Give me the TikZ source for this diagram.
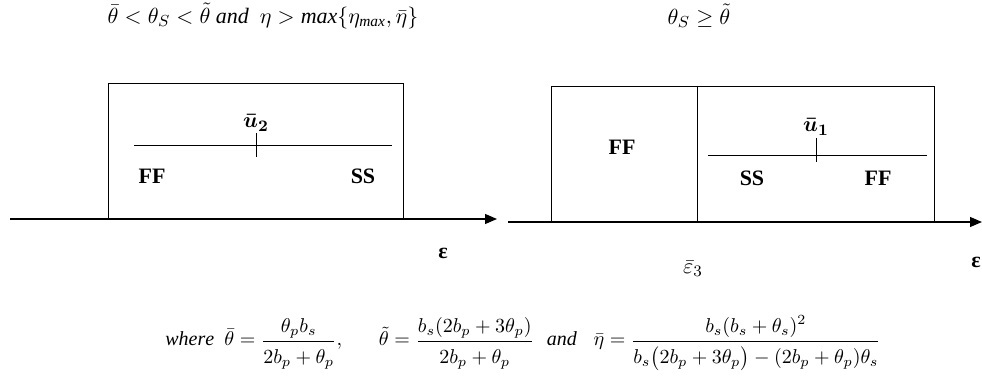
\documentclass[tikz,border=0pt]{standalone}
\usepackage{amsmath}
\usepackage{fontspec}
\setmainfont{Liberation Serif}
\usetikzlibrary{arrows.meta,positioning}
% fraction with a little more air, as in the source
\newcommand\airfrac[2]{\dfrac{\rule[-3pt]{0pt}{3pt}#1}{\rule{0pt}{10pt}#2}}
\begin{document}
\begin{tikzpicture}[x=0.5pt, y=-0.5pt, font=\fontsize{11}{13}\selectfont,
    axis/.style={-{Triangle[length=6pt,width=5pt]}, line width=0.6pt},
    panel/.style={draw, line width=0.5pt},
    lbl/.style={font=\fontsize{11}{13}\selectfont\bfseries},
    defn/.style={font=\normalsize, inner sep=0pt}]
  \useasboundingbox (0,0) rectangle (982,379);
  % regime conditions
  \node (condL) at (263,16) {$\bar{\theta} < \theta_S < \tilde{\theta}\ \mathit{and}\ \ \eta > \mathit{max}\{\eta_{\mathit{max}},\bar{\eta}\}$};
  \node (condR) at (699,16) {$\theta_S \geq \tilde{\theta}$};
  % left panel
  \coordinate (axL0) at (10,219);
  \coordinate (axL1) at (497,219);
  \draw[axis] (axL0) -- (axL1);
  \draw[panel] (108,219) rectangle (403,84);
  \draw (134,145) -- (392,145);
  \draw (256,133) -- (256,157);
  \node (u2) at (256,123) {$\boldsymbol{\bar{u}_2}$};
  \node[lbl] (ffL) at (152,176) {FF};
  \node[lbl] (ssL) at (363,176) {SS};
  \node[lbl] (epsL) at (443,253) {ε};
  % right panel
  \coordinate (axR0) at (508,222);
  \coordinate (axR1) at (982,222);
  \draw[axis] (axR0) -- (axR1);
  \draw[panel] (551,222) rectangle (934,87);
  \draw (697,87) -- (697,222);
  \draw (708,155) -- (927,155);
  \draw (816,138) -- (816,162);
  \node (u1) at (816,127) {$\boldsymbol{\bar{u}_1}$};
  \node[lbl] (ffR1) at (622,147) {FF};
  \node[lbl] (ssR) at (752,178) {SS};
  \node[lbl] (ffR2) at (878,178) {FF};
  \node (eps3) at (693,269) {$\bar{\varepsilon}_3$};
  \node[lbl] (epsR) at (976,262) {ε};
  % thresholds
  \node[defn, anchor=base west] (thBar) at (165,346)
    {$\mathit{where}\ \ \bar{\theta} = \airfrac{\theta_p b_s}{2b_p+\theta_p},$};
  \node[defn, base right=18pt of thBar] (thTil)
    {$\tilde{\theta} = \airfrac{b_s(2b_p+3\theta_p)}{2b_p+\theta_p}$};
  \node[defn, base right=6pt of thTil] (andW) {$\mathit{and}$};
  \node[defn, base right=8pt of andW] (etaBar)
    {$\bar{\eta} = \airfrac{b_s(b_s+\theta_s)^2}{b_s\bigl(2b_p+3\theta_p\bigr)-(2b_p+\theta_p)\theta_s}$};
\end{tikzpicture}
\end{document}
